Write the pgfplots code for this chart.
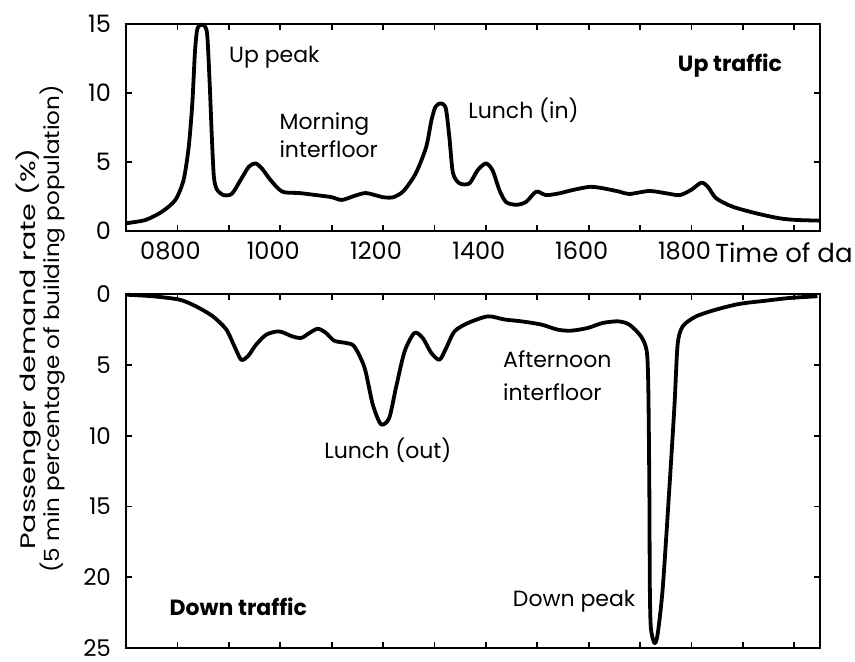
\documentclass[border=0pt]{standalone}
\usepackage{fontspec}
\setmainfont{Poppins}
\usepackage{graphicx}
\usepackage{pgfplots}
\pgfplotsset{compat=1.18}
\begin{document}
\begin{tikzpicture}
\useasboundingbox (0,0) rectangle (427.5pt,331pt);
\pgfplotsset{
  myax/.style={
    scale only axis, anchor=south west, width=347pt,
    xmin=7, xmax=20.5, xtick={8,...,20},
    clip=false,
    axis line style={line width=1.2pt},
    every tick/.style={black, line width=0.9pt},
    major tick length=3pt,
    /pgf/number format/assume math mode=true,
    tick label style={font=\fontsize{12}{14}\selectfont},
    yticklabel style={xshift=-4pt},
    xticklabel style={yshift=-2pt, xshift=-3.5pt},
  },
  myline/.style={black, line width=1.9pt, smooth, tension=0.45, line join=round, mark=none},
}
\begin{axis}[myax, at={(63pt,215.5pt)}, height=103.5pt,
  ymin=0, ymax=15, ytick={0,5,10,15},
  xticklabels={0800,,1000,,1200,,1400,,1600,,1800,,}]
\addplot[myline] coordinates {
(7.00,0.56) (7.38,0.80) (7.70,1.40) (7.96,2.25) (8.12,3.70) (8.22,6.10)
(8.29,9.25) (8.34,12.9) (8.38,14.5) (8.43,14.9) (8.52,14.9) (8.58,14.2)
(8.63,10.5) (8.67,6.8) (8.71,3.9) (8.77,3.0) (8.90,2.6) (9.06,2.7)
(9.23,3.7) (9.39,4.66) (9.52,4.9) (9.65,4.5) (9.81,3.7) (10.04,2.85)
(10.37,2.75) (10.70,2.6) (11.00,2.45) (11.20,2.25) (11.45,2.55) (11.67,2.75)
(12.00,2.45) (12.20,2.45) (12.40,2.9) (12.64,4.2) (12.84,6.1) (12.94,8.0)
(13.02,9.0) (13.12,9.25) (13.22,8.9) (13.29,6.8) (13.36,4.2) (13.49,3.45)
(13.68,3.45) (13.84,4.4) (14.00,4.9) (14.13,4.4) (14.26,3.0) (14.39,2.1)
(14.59,1.9) (14.78,2.1) (14.98,2.85) (15.17,2.6) (15.43,2.73) (15.69,2.97)
(16.02,3.2) (16.27,3.1) (16.60,2.85) (16.79,2.68) (17.18,2.9) (17.51,2.73)
(17.77,2.6) (17.99,2.97) (18.19,3.5) (18.32,3.2) (18.48,2.37) (18.80,1.76)
(19.26,1.28) (19.71,0.92) (20.04,0.80) (20.50,0.75)
};
\node[anchor=base west, font=\fontsize{11}{13}\selectfont] at (axis cs:8.87,12.2) {Up peak};
\node[anchor=base west, font=\fontsize{11}{13}\selectfont] at (axis cs:9.85,7.32) {Morning};
\node[anchor=base west, font=\fontsize{11}{13}\selectfont] at (axis cs:9.85,5.29) {interfloor};
\node[anchor=base west, font=\fontsize{11}{13}\selectfont] at (axis cs:13.52,8.17) {Lunch (in)};
\node[anchor=base west, font=\fontsize{11}{13}\selectfont\bfseries] at (axis cs:17.6,11.54) {Up traffic};
\node[anchor=base west, inner sep=0pt, font=\fontsize{13}{15}\selectfont] at ([yshift=-16pt]axis cs:18.45,0) {Time of da};
\end{axis}
\begin{axis}[myax, at={(63pt,7pt)}, height=177pt,
  ymin=0, ymax=25, y dir=reverse, ytick={0,5,10,15,20,25},
  yticklabel style={font=\fontsize{11.5}{13}\selectfont},
  xticklabels={}]
\addplot[myline] coordinates {
(7.00,0.05) (7.52,0.16) (8.04,0.40) (8.36,0.87) (8.69,1.58) (8.95,2.50)
(9.11,3.70) (9.24,4.64) (9.37,4.40) (9.53,3.58) (9.73,2.87) (9.98,2.64)
(10.24,3.00) (10.41,3.10) (10.57,2.75) (10.73,2.45) (10.89,2.75) (11.05,3.30)
(11.28,3.46) (11.44,3.70) (11.64,5.20) (11.80,7.80) (11.96,9.20) (12.12,8.76)
(12.25,6.64) (12.42,4.05) (12.61,2.75) (12.77,3.10) (12.94,4.17) (13.10,4.64)
(13.23,3.80) (13.39,2.64) (13.65,2.05) (14.04,1.58) (14.36,1.80) (14.69,1.93)
(15.08,2.16) (15.40,2.52) (15.66,2.59) (15.98,2.40) (16.27,2.05) (16.57,1.93)
(16.79,2.16) (17.02,3.00) (17.13,4.05) (17.16,6.60) (17.18,13.7) (17.19,20.8)
(17.21,23.6) (17.28,24.65) (17.34,24.06) (17.44,20.8) (17.57,13.7) (17.67,7.80)
(17.73,3.58) (17.83,2.28) (18.09,1.58) (18.48,1.10) (18.93,0.70) (19.45,0.47)
(19.91,0.28) (20.45,0.16)
};
\node[anchor=base west, font=\fontsize{11}{13}\selectfont] at (axis cs:10.72,11.6) {Lunch (out)};
\node[anchor=base west, font=\fontsize{11}{13}\selectfont] at (axis cs:14.2,5.18) {Afternoon};
\node[anchor=base west, font=\fontsize{11}{13}\selectfont] at (axis cs:14.2,7.49) {interfloor};
\node[anchor=base west, font=\fontsize{11}{13}\selectfont] at (axis cs:14.39,22.08) {Down peak};
\node[anchor=base west, font=\fontsize{11}{13}\selectfont\bfseries] at (axis cs:7.71,22.67) {Down traffic};
\end{axis}
\node[rotate=90, font=\fontsize{11}{13}\selectfont] at (14.5pt,156.5pt) {\scalebox{1.3}[0.95]{Passenger demand rate (\%)}};
\node[rotate=90, font=\fontsize{11}{13}\selectfont] at (26.5pt,166.5pt) {\scalebox{1.05}[0.95]{(5 min percentage of building population)}};
\end{tikzpicture}
\end{document}
